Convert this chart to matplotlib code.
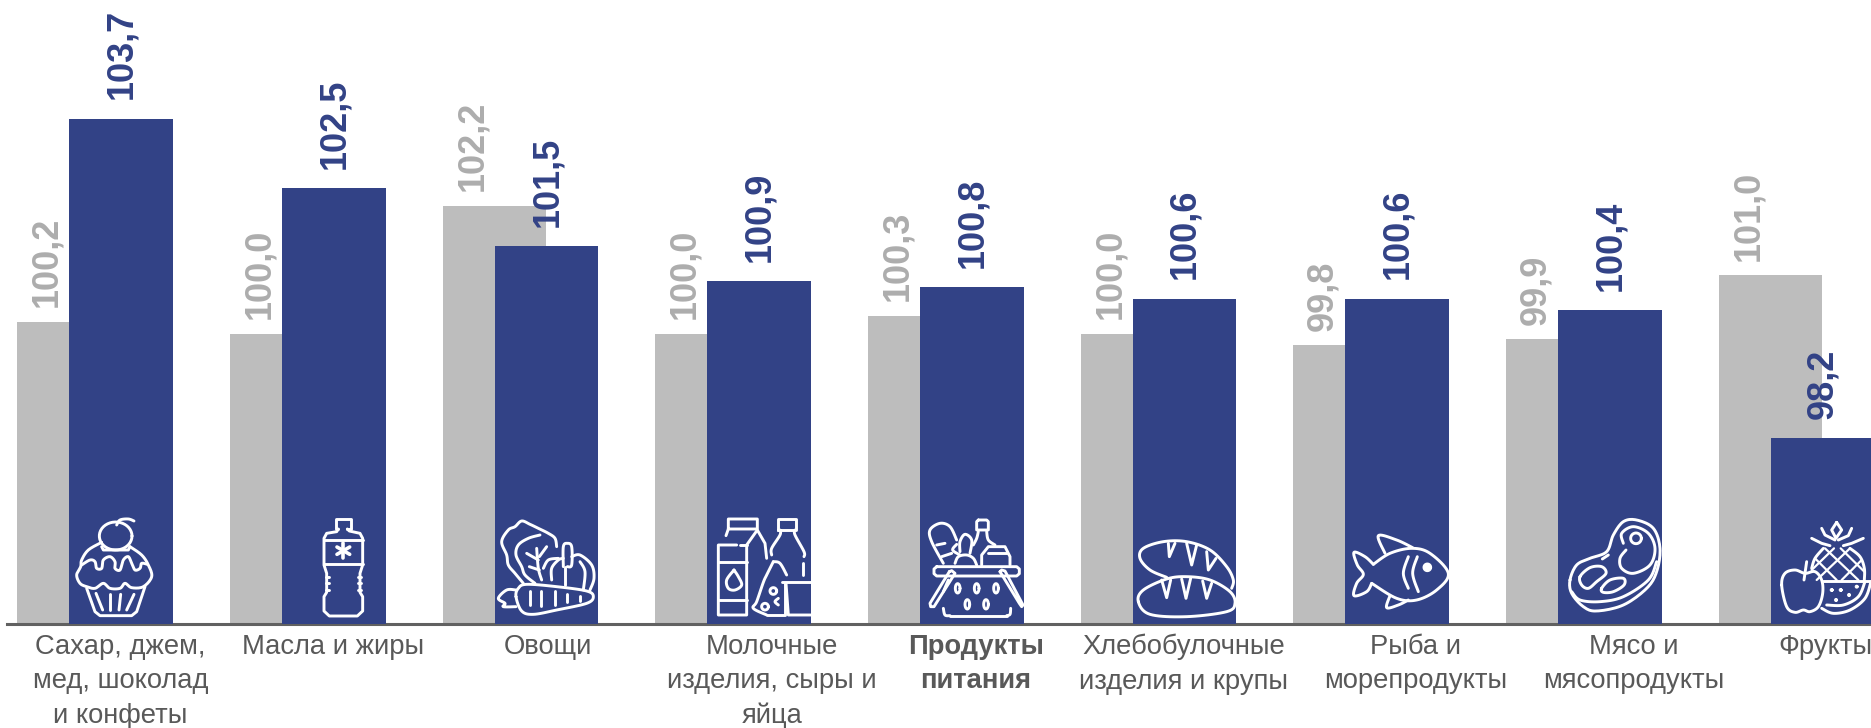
import numpy as np
import matplotlib
matplotlib.use("Agg")
import matplotlib.pyplot as plt
from matplotlib.path import Path
from matplotlib.patches import PathPatch
from matplotlib.transforms import Affine2D

# ---------- data ----------
categories = ["Сахар, джем,\nмед, шоколад\nи конфеты", "Масла и жиры", "Овощи",
              "Молочные\nизделия, сыры и\nяйца", "Продукты\nпитания",
              "Хлебобулочные\nизделия и крупы", "Рыба и\nморепродукты",
              "Мясо и\nмясопродукты", "Фрукты"]
previous = [100.2, 100.0, 102.2, 100.0, 100.3, 100.0, 99.8, 99.9, 101.0]
current = [103.7, 102.5, 101.5, 100.9, 100.8, 100.6, 100.6, 100.4, 98.2]
bold_category = "Продукты\nпитания"
label_shift = [-1, -1, 1, 13, 4, -1, 18, 24, 3]

BLUE, GREY = "#324286", "#BDBDBD"
GREY_TXT, DARK_TXT, AXIS = "#ADADAD", "#595959", "#616161"
W, H = 1871, 728
PITCH, BLUE_C0, BASE_PX, PX_PER_UNIT = 212.65, 121.3, 624, 58.1

plt.rcParams["font.family"] = ["Liberation Sans", "DejaVu Sans"]
fig = plt.figure(figsize=(W / 100, H / 100), dpi=100, facecolor="white")
ax = fig.add_axes([0, (H - BASE_PX) / H, 1, BASE_PX / H])
ax.set_xlim(-BLUE_C0 / PITCH, (W - BLUE_C0) / PITCH)
ax.set_ylim(95, 95 + BASE_PX / PX_PER_UNIT)
for s in ("top", "left", "right"):
    ax.spines[s].set_visible(False)
ax.spines["bottom"].set_color(AXIS)
ax.spines["bottom"].set_linewidth(2.2)
ax.spines["bottom"].set_bounds((7 - BLUE_C0) / PITCH, (W - BLUE_C0) / PITCH)
ax.set_yticks([])
ax.set_xticks([])

x = np.arange(len(categories))
bw = 103.7 / PITCH
off = 52 / PITCH
ax.bar(x - off, previous, bw, color=GREY, bottom=0, zorder=2)
ax.bar(x, current, bw, color=BLUE, bottom=0, zorder=3)

for i, (p, c) in enumerate(zip(previous, current)):
    ax.annotate(f"{p:.1f}".replace(".", ","), (i - off, p), xytext=(-16, 10.5),
                textcoords="offset points", rotation=90, ha="center", va="bottom",
                fontsize=26, fontweight="bold", color=GREY_TXT, zorder=4)
    ax.annotate(f"{c:.1f}".replace(".", ","), (i, c), xytext=(0.5, 14),
                textcoords="offset points", rotation=90, ha="center", va="bottom",
                fontsize=26, fontweight="bold", color=BLUE, zorder=5)

for i, (cat, sh) in enumerate(zip(categories, label_shift)):
    ax.annotate(cat, (i + sh / PITCH, 95), xytext=(0, -7), textcoords="offset points",
                ha="center", va="top", multialignment="center", fontsize=19.7, color=DARK_TXT,
                fontweight="bold" if cat == bold_category else "normal",
                linespacing=1.42, annotation_clip=False)


# ---------- decorative white line icons (crop-pixel coordinates) ----------
def smooth(pts, closed=False, n=10):
    p = np.asarray(pts, float)
    if closed:
        q = np.vstack([p[-1], p, p[0], p[1]])
    else:
        q = np.vstack([p[0], p, p[-1]])
    out = []
    for k in range(1, len(q) - 2):
        p0, p1, p2, p3 = q[k - 1], q[k], q[k + 1], q[k + 2]
        for t in np.linspace(0, 1, n, endpoint=False):
            out.append(0.5 * (2 * p1 + (p2 - p0) * t + (2 * p0 - 5 * p1 + 4 * p2 - p3) * t ** 2
                              + (3 * p1 - p0 - 3 * p2 + p3) * t ** 3))
    out.append(q[-2])
    return np.array(out)


def circle(cx, cy, rx, ry=None):
    ry = rx if ry is None else ry
    t = np.linspace(0, 2 * np.pi, 40)
    return np.c_[cx + rx * np.cos(t), cy + ry * np.sin(t)]


class Icon:
    def __init__(self, ox, oy, lw=2.1):
        self.tr = Affine2D().scale(1 / 3).translate(ox, oy).scale(1, -1).translate(0, H)
        self.lw = lw

    def raw(self, pts, lw=None, fill=False):
        patch = PathPatch(Path(np.asarray(pts, float)), fill=fill, facecolor="white", edgecolor="white",
                          lw=lw or self.lw, transform=self.tr, zorder=6,
                          capstyle="round", joinstyle="round")
        patch.set_clip_on(False)
        fig.add_artist(patch)

    def s(self, *pts, closed=False, lw=None):
        self.raw(smooth(pts, closed), lw)

    def l(self, *pts, lw=None):
        self.raw(pts, lw)

    def c(self, cx, cy, rx, ry=None, lw=None, fill=False):
        self.raw(circle(cx, cy, rx, ry), lw, fill)


# cupcake
a = Icon(60, 505)
a.c(167, 93, 49, 42)
a.s((170, 60), (180, 45), (205, 42), (222, 48))
a.s((125, 112), (85, 135), (65, 165), (62, 185), (50, 210), (60, 235), (80, 245), (105, 250), (130, 235),
    (150, 250), (180, 250), (195, 235), (215, 248), (250, 245), (275, 215), (265, 180), (245, 150), (210, 125))
a.s((65, 180), (90, 165), (105, 170), (110, 190), (125, 190), (130, 165), (150, 155), (165, 170), (165, 190),
    (180, 195), (190, 165), (205, 155), (215, 175), (225, 195), (240, 190), (245, 175), (262, 178))
a.l((125, 125), (130, 135), (205, 135), (210, 125))
a.l((80, 250), (105, 320), (120, 332), (215, 332), (230, 320), (255, 245))
a.l((108, 265), (128, 315)); a.l((150, 268), (150, 315)); a.l((182, 268), (177, 315)); a.l((222, 268), (200, 315))

# bottle
a = Icon(60, 505)
a.l((835, 72), (827, 72), (827, 42), (872, 42), (872, 72), (862, 72))
a.l((835, 72), (830, 80), (800, 85), (792, 100), (792, 180), (800, 205), (800, 262), (792, 275), (792, 318),
    (808, 333), (892, 333), (908, 318), (908, 275), (900, 262), (900, 205), (908, 180), (908, 100), (900, 85),
    (868, 78), (862, 72))
a.l((792, 105), (908, 105)); a.l((792, 178), (908, 178))
for ang in np.deg2rad([30, 90, 150]):
    a.l((850 - 22 * np.cos(ang), 137 - 22 * np.sin(ang)), (850 + 22 * np.cos(ang), 137 + 22 * np.sin(ang)), lw=2.6)
for yy in (215, 235, 255):
    a.l((798, yy), (806, yy)); a.l((894, yy), (902, yy))

# vegetables
a = Icon(480, 505)
a.s((130, 235), (105, 205), (85, 180), (80, 150), (65, 110), (85, 75), (105, 65), (125, 48), (150, 58),
    (175, 70), (205, 85), (225, 100), (230, 125))
a.s((165, 235), (135, 210), (125, 185), (108, 150), (115, 120), (145, 100), (180, 90))
a.s((185, 225), (175, 190), (170, 130))
a.l((140, 145), (175, 165)); a.l((200, 125), (178, 155)); a.l((148, 185), (178, 195))
a.s((250, 185), (250, 125), (262, 115), (275, 125), (275, 180), (262, 185))
a.l((255, 185), (255, 240))
a.s((215, 225), (215, 190), (235, 165), (250, 160))
a.s((190, 190), (205, 165), (235, 160))
a.s((275, 155), (300, 150), (335, 180), (342, 220), (330, 255))
a.s((300, 170), (315, 200), (310, 255))
a.s((108, 275), (115, 250), (140, 238), (230, 245), (320, 258), (340, 275), (320, 295), (230, 315), (160, 328),
    (125, 318), closed=True)
for xx, y0, y1 in ((150, 258, 300), (182, 258, 303), (225, 258, 300), (262, 268, 290), (300, 272, 288)):
    a.l((xx, y0), (xx, y1))
a.s((108, 255), (80, 255), (55, 280), (75, 295), (70, 305), (108, 305))

# dairy
a = Icon(480, 505)
a.l((745, 72), (745, 42), (832, 42), (832, 72), (745, 72), (738, 92))
a.l((770, 120), (715, 120), (715, 330), (800, 330), (800, 120), (832, 75), (855, 115), (860, 160))
a.l((715, 170), (800, 170)); a.l((715, 285), (800, 285)); a.l((780, 120), (800, 120))
a.s((762, 195), (740, 225), (745, 250), (765, 255), (785, 240), (775, 215), (762, 195))
a.l((900, 75), (893, 75), (893, 42), (948, 42), (948, 75), (893, 75))
a.s((900, 75), (900, 90), (875, 130), (875, 150))
a.s((945, 75), (945, 90), (972, 140), (972, 155))
a.l((968, 175), (968, 210))
a.s((880, 170), (860, 210), (850, 232), (830, 290), (820, 310), (860, 330))
a.l((860, 330), (915, 330), (915, 235))
a.s((880, 170), (900, 175), (920, 210))
a.c(880, 258, 10); a.c(855, 305, 10)
a.s((895, 280), (885, 290), (895, 300))
a.l((905, 230), (992, 230)); a.l((918, 235), (925, 330), (992, 330))

# basket
a = Icon(910, 505)
a.s((100, 175), (65, 110), (60, 75), (90, 55), (120, 65), (140, 105))
a.l((80, 120), (105, 115)); a.l((95, 155), (125, 145))
a.s((135, 175), (145, 155), (170, 150), (190, 160), (200, 180))
a.s((150, 140), (150, 110), (165, 88), (185, 105), (180, 145))
a.s((150, 150), (128, 135), (140, 118))
a.l((205, 45), (230, 45), (235, 50), (235, 75), (200, 75), (200, 50), (205, 45))
a.s((205, 80), (200, 100), (190, 120)); a.s((230, 80), (235, 105), (255, 120))
a.l((215, 180), (215, 150), (235, 125), (285, 125), (300, 155), (300, 180)); a.l((235, 145), (290, 145))
a.l((80, 185), (320, 185), (328, 192), (328, 206), (320, 213), (80, 213), (72, 206), (72, 192), (80, 185))
a.l((118, 200), (60, 295), (62, 305), (72, 305), (135, 205), (125, 197), (118, 200))
a.l((270, 200), (328, 295), (335, 305), (339, 300), (285, 198), (275, 195), (270, 200))
a.s((100, 310), (105, 330), (120, 332)); a.l((120, 332), (290, 332)); a.s((290, 332), (300, 328), (302, 310))
a.l((115, 225), (100, 260))
for xx, yy in ((143, 250), (200, 250), (258, 250), (172, 298), (228, 298)):
    a.c(xx, yy, 7, 14)

# bread
a = Icon(910, 505)
a.s((770, 217), (720, 195), (690, 160), (700, 130), (760, 110), (830, 110), (900, 135), (950, 185), (970, 225), (965, 250))
a.s((685, 290), (700, 255), (770, 222), (830, 215), (900, 225), (960, 260), (975, 295), (950, 320), (830, 335), (720, 328),
    closed=True)
for tri in (((775, 115), (778, 155), (795, 115)), ((830, 115), (845, 180), (860, 120)), ((890, 140), (895, 195), (918, 160)),
            ((755, 225), (770, 278), (782, 225)), ((815, 222), (828, 280), (842, 220)), ((878, 228), (890, 280), (905, 235))):
    a.l(*tri)

# fish
a = Icon(1340, 505)
a.s((100, 178), (150, 145), (215, 130), (270, 145), (325, 205), (290, 255), (230, 285), (170, 280), (95, 235))
a.s((100, 178), (75, 155), (42, 142), (52, 180), (70, 208), (50, 235), (42, 272), (80, 260), (95, 235))
a.s((135, 145), (115, 92), (170, 105), (218, 128))
a.s((150, 272), (140, 308), (175, 300), (205, 285))
a.s((205, 155), (190, 205), (205, 250)); a.s((232, 155), (218, 205), (235, 260))
a.c(262, 187, 10, fill=True)

# meat
a = Icon(1340, 505)
a.s((690, 225), (695, 265), (730, 305), (770, 318), (850, 300), (920, 250), (950, 200), (960, 130), (940, 70),
    (890, 45), (850, 50), (820, 90), (800, 140), (750, 160), (710, 180), closed=True)
a.s((695, 260), (720, 285), (780, 290), (850, 275), (925, 225), (950, 170))
a.s((850, 115), (845, 85), (880, 65), (925, 85), (945, 130), (930, 180), (880, 205), (845, 190), (840, 160), (858, 135))
a.c(888, 100, 16)
a.s((720, 215), (750, 188), (785, 185), (798, 205), (770, 230), (745, 250), (725, 240), closed=True)
a.s((785, 250), (810, 225), (850, 220), (852, 240), (820, 260), (790, 262), closed=True)
a.l((787, 162), (805, 150))

# fruit
a = Icon(1710, 505)
a.s((215, 240), (225, 205), (255, 195), (285, 205), (315, 200), (335, 225), (338, 265), (325, 305), (300, 320),
    (280, 315), (255, 322), (230, 305), closed=True)
a.l((290, 170), (282, 225))
a.l((380, 52), (365, 75), (378, 100), (395, 75), (380, 52))
a.l((335, 70), (345, 90), (375, 105)); a.l((425, 70), (415, 92), (385, 105))
a.l((305, 100), (335, 115), (360, 122)); a.l((460, 100), (425, 115), (400, 122))
a.s((340, 130), (315, 160), (305, 190)); a.s((420, 130), (450, 155), (463, 190), (463, 225))
for p, q in (((345, 130), (445, 225)), ((315, 160), (380, 225)), ((392, 130), (463, 200)),
             ((420, 130), (320, 225)), ((455, 165), (395, 225)), ((372, 130), (305, 195))):
    a.l(p, q, lw=1.6)
a.l((340, 228), (483, 228))
a.s((483, 230), (465, 280), (420, 315), (370, 325), (335, 310))
a.s((465, 230), (445, 275), (400, 300), (350, 300))
for xx, yy in ((365, 255), (392, 255), (440, 245), (417, 270), (378, 285)):
    a.c(xx, yy, 1.5, fill=True)

fig.savefig("out.png", dpi=100, facecolor="white")
